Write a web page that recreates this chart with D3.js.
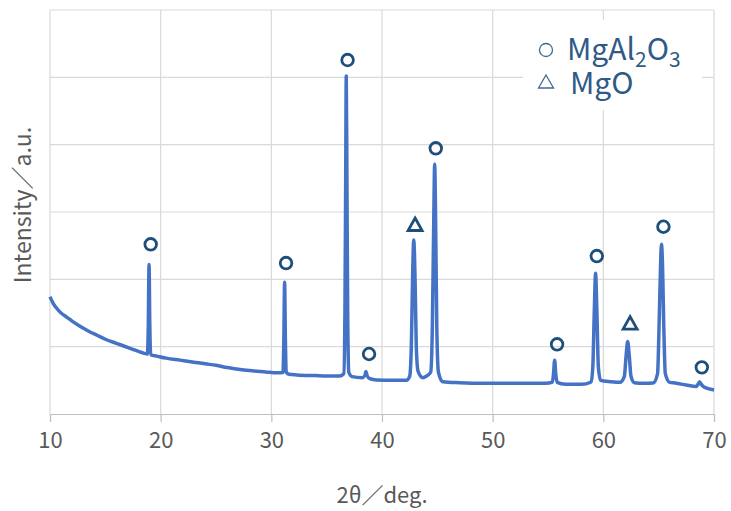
<!DOCTYPE html>
<html>
<head>
<meta charset="utf-8">
<script src="https://cdn.jsdelivr.net/npm/d3@7"></script>
<style>
  body { margin: 0; background: #fff; }
  svg { display: block; font-family: "Noto Sans CJK JP", "Noto Sans", sans-serif; }
</style>
</head>
<body>
<svg id="chart" width="731" height="511"></svg>
<script>
// XRD pattern (2theta in deg, intensity in counts)
var twoTheta = [
  10.0, 10.3, 10.6, 11.0, 11.5, 12.0, 12.75, 13.5, 14.25, 15.0, 16.0, 17.25, 18.45, 18.8,
  18.88, 18.95, 19.02, 19.1, 19.65, 20.5, 21.75, 23.0, 24.0, 25.0, 26.0, 27.0, 28.0, 29.5,
  30.5, 31.05, 31.13, 31.2, 31.27, 31.36, 31.6, 32.3, 34.0, 35.0, 36.2, 36.55, 36.65, 36.72,
  36.77, 36.83, 36.9, 37.0, 37.3, 38.2, 38.45, 38.55, 38.65, 38.9, 39.5, 41.0, 42.2, 42.5,
  42.65, 42.75, 42.87, 43.0, 43.1, 43.25, 43.5, 43.7, 44.0, 44.4, 44.55, 44.67, 44.76, 44.85,
  44.95, 45.1, 45.5, 47.0, 49.4, 52.0, 54.8, 55.4, 55.5, 55.6, 55.7, 55.82, 56.6, 58.0,
  58.9, 59.05, 59.18, 59.3, 59.42, 59.55, 59.75, 60.65, 61.5, 61.9, 62.05, 62.2, 62.35, 62.5,
  62.8, 63.65, 64.5, 64.9, 65.05, 65.17, 65.25, 65.35, 65.45, 65.6, 66.0, 66.5, 67.5, 68.4,
  68.55, 68.7, 68.85, 69.1, 70.0
];
var intensity = [
  1740, 1640, 1570, 1500, 1440, 1380, 1300, 1230, 1170, 1110, 1050, 975, 905, 890,
  1300, 2220, 1300, 880, 860, 830, 800, 770, 745, 725, 690, 665, 645, 625,
  612, 615, 1100, 1955, 1100, 620, 590, 580, 570, 565, 565, 600, 1500, 3500,
  5020, 3500, 1500, 620, 555, 540, 570, 630, 570, 525, 505, 500, 500, 560,
  1000, 1900, 2585, 1900, 1000, 640, 560, 540, 560, 620, 1300, 2800, 3710, 2800,
  1300, 620, 480, 465, 456, 455, 456, 475, 600, 800, 600, 470, 441, 440,
  475, 700, 1500, 2090, 1500, 700, 500, 480, 470, 560, 850, 1075, 850, 560,
  465, 456, 460, 600, 1400, 2200, 2520, 2200, 1400, 600, 470, 460, 430, 410,
  440, 480, 440, 400, 356
];

// peak markers: phase, position and height where the symbol sits
var markerPhase = ['spinel', 'spinel', 'spinel', 'spinel', 'MgO', 'spinel', 'spinel', 'spinel', 'MgO', 'spinel', 'spinel'];
var markerTwoTheta = [19.1, 31.33, 36.89, 38.83, 42.99, 44.86, 55.82, 59.41, 62.42, 65.43, 68.9];
var markerIntensity = [2520, 2242, 5257, 891, 2814, 3946, 1035, 2346, 1350, 2781, 693];

var xTicks = [10, 20, 30, 40, 50, 60, 70];
var yTicks = [0, 1000, 2000, 3000, 4000, 5000, 6000];

var svg = d3.select('#chart');

var margin = { top: 10, right: 17, bottom: 97, left: 50 },
  width = 731 - margin.left - margin.right,
  height = 511 - margin.top - margin.bottom;

var x = d3.scaleLinear().domain([10, 70]).range([0, width]);
var y = d3.scaleLinear().domain([0, 6000]).range([height, 0]);

var g = svg.append('g').attr('transform', `translate(${margin.left},${margin.top})`);

// gridlines
g.append('g').selectAll('line.h').data(yTicks.slice(1)).enter()
  .append('line')
  .attr('x1', 0).attr('x2', width)
  .attr('y1', d => y(d)).attr('y2', d => y(d))
  .attr('stroke', '#d9d9d9').attr('stroke-width', 1.2);

g.append('g').selectAll('line.v').data(xTicks).enter()
  .append('line')
  .attr('x1', d => x(d)).attr('x2', d => x(d))
  .attr('y1', 0).attr('y2', height)
  .attr('stroke', '#d9d9d9').attr('stroke-width', 1.2);

// x axis
var xAxis = g.append('g')
  .attr('transform', `translate(0,${height})`)
  .call(d3.axisBottom(x).tickValues(xTicks).tickSize(8).tickPadding(10).tickFormat(d3.format('d')));

xAxis.select('.domain').attr('stroke', '#bfbfbf').attr('stroke-width', 1.2);
xAxis.selectAll('.tick line').attr('stroke', '#bfbfbf').attr('stroke-width', 1.2);
xAxis.selectAll('.tick text')
  .attr('fill', '#595959')
  .style('font-size', '22px')
  .style('font-family', '"Noto Sans CJK JP", sans-serif');

// axis titles
svg.append('text')
  .attr('x', margin.left + width / 2)
  .attr('y', 503)
  .attr('text-anchor', 'middle')
  .attr('fill', '#595959')
  .style('font-size', '22px')
  .text('2θ／deg.');

svg.append('text')
  .attr('transform', `translate(31,${margin.top + 195}) rotate(-90)`)
  .attr('text-anchor', 'middle')
  .attr('fill', '#595959')
  .style('font-size', '23px')
  .text('Intensity／a.u.');

// the pattern
var line = d3.line()
  .x((d, i) => x(twoTheta[i]))
  .y(d => y(d))
  .curve(d3.curveMonotoneX);

g.append('path')
  .datum(intensity)
  .attr('fill', 'none')
  .attr('stroke', '#4472c4')
  .attr('stroke-width', 3.5)
  .attr('stroke-linejoin', 'round')
  .attr('d', line);

// peak markers
var markerColor = '#1f4e79';
var markers = g.append('g').selectAll('g').data(markerTwoTheta).enter()
  .append('g')
  .attr('transform', (d, i) => `translate(${x(d)},${y(markerIntensity[i])})`);

markers.filter((d, i) => markerPhase[i] === 'spinel')
  .append('circle')
  .attr('r', 5.8)
  .attr('fill', 'none')
  .attr('stroke', markerColor)
  .attr('stroke-width', 2.8);

markers.filter((d, i) => markerPhase[i] === 'MgO')
  .append('path')
  .attr('d', 'M0,-6.5L7,6L-7,6Z')
  .attr('fill', 'none')
  .attr('stroke', markerColor)
  .attr('stroke-width', 2.8)
  .attr('stroke-linejoin', 'miter');

// legend
var legend = svg.append('g').attr('class', 'legend');

legend.append('rect')
  .attr('x', 523).attr('y', 20)
  .attr('width', 179).attr('height', 90)
  .attr('fill', '#fff');

legend.append('circle')
  .attr('cx', 546).attr('cy', 50).attr('r', 6.5)
  .attr('fill', 'none').attr('stroke', '#44698f').attr('stroke-width', 1.3);

legend.append('path')
  .attr('d', 'M546,75L553.5,88L538.5,88Z')
  .attr('fill', 'none').attr('stroke', '#44698f').attr('stroke-width', 1.3);

// both entries in one text block
var lt = legend.append('text')
  .attr('x', 567).attr('y', 60)
  .attr('fill', '#2f5a87')
  .style('font-size', '30px');
lt.append('tspan').text('MgAl');
lt.append('tspan').attr('dy', 7).style('font-size', '21px').text('2');
lt.append('tspan').attr('dy', -7).text('O');
lt.append('tspan').attr('dy', 7).style('font-size', '21px').text('3');
lt.append('tspan').attr('x', 570).attr('y', 94).text('MgO');
</script>
</body>
</html>
